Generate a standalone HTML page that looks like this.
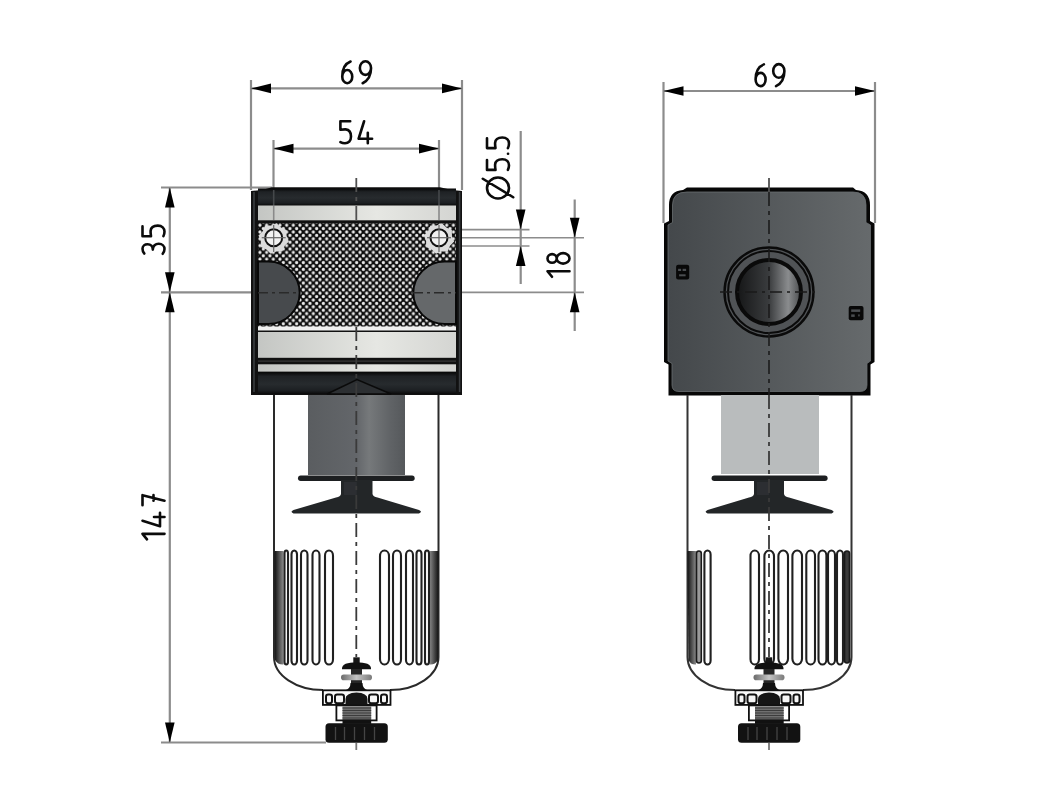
<!DOCTYPE html><html><head><meta charset="utf-8"><style>
html,body{margin:0;padding:0;background:#fff;width:1051px;height:803px;overflow:hidden}
svg{display:block}
.t{font-family:"Liberation Sans",sans-serif;fill:#111}
</style></head><body>
<svg width="1051" height="803" viewBox="0 0 1051 803">
<defs>
<pattern id="knurl" patternUnits="userSpaceOnUse" width="6.67" height="6.8" x="320" y="232">
<rect width="6.67" height="6.8" fill="#0c0c0c"/>
<circle cx="0" cy="0" r="1.6" fill="#eaeaea"/><circle cx="6.67" cy="0" r="1.6" fill="#eaeaea"/>
<circle cx="0" cy="6.8" r="1.6" fill="#eaeaea"/><circle cx="6.67" cy="6.8" r="1.6" fill="#eaeaea"/>
<circle cx="3.335" cy="3.4" r="1.6" fill="#eaeaea"/>
</pattern>
<linearGradient id="lightband" x1="0" y1="0" x2="1" y2="0">
<stop offset="0" stop-color="#c4c6c3"/><stop offset="0.6" stop-color="#e6e7e3"/><stop offset="1" stop-color="#d4d5d2"/>
</linearGradient>
<linearGradient id="darkcap" x1="0" y1="0" x2="0" y2="1">
<stop offset="0" stop-color="#060606"/><stop offset="0.2" stop-color="#1f2225"/><stop offset="0.55" stop-color="#272b2e"/><stop offset="0.85" stop-color="#1c1f22"/><stop offset="1" stop-color="#0a0a0a"/>
</linearGradient>
<linearGradient id="rbody" x1="0" y1="0" x2="1" y2="0">
<stop offset="0" stop-color="#44484b"/><stop offset="1" stop-color="#666a6c"/>
</linearGradient>
<linearGradient id="portdisc" x1="0" y1="0" x2="1" y2="0">
<stop offset="0" stop-color="#151617"/><stop offset="0.5" stop-color="#3a3c3e"/><stop offset="0.8" stop-color="#8a8c8e"/><stop offset="1" stop-color="#4a4c4e"/>
</linearGradient>
<linearGradient id="darkband" x1="0" y1="0" x2="1" y2="0">
<stop offset="0" stop-color="#111"/><stop offset="1" stop-color="#8a8a8a"/>
</linearGradient>
<linearGradient id="darkbandR" x1="0" y1="0" x2="1" y2="0">
<stop offset="0" stop-color="#8a8a8a"/><stop offset="1" stop-color="#111"/>
</linearGradient>
<linearGradient id="filterL" x1="0" y1="0" x2="1" y2="0">
<stop offset="0" stop-color="#5a5d60"/><stop offset="0.5" stop-color="#63666a"/><stop offset="0.63" stop-color="#76797b"/><stop offset="0.85" stop-color="#606366"/><stop offset="1" stop-color="#55585b"/>
</linearGradient>
<linearGradient id="graydisc" x1="0" y1="0" x2="1" y2="0">
<stop offset="0" stop-color="#6a6a6a"/><stop offset="0.5" stop-color="#c4c4c4"/><stop offset="1" stop-color="#7a7a7a"/>
</linearGradient>
</defs>

<line x1="251" y1="80" x2="251" y2="190" stroke="#8c8c8c" stroke-width="2.2" />
<line x1="462" y1="80" x2="462" y2="190" stroke="#8c8c8c" stroke-width="2.2" />
<line x1="251" y1="88.4" x2="462" y2="88.4" stroke="#8c8c8c" stroke-width="2.2" />
<polygon points="251.0,88.4 271.0,83.6 271.0,93.2" fill="#000"/>
<polygon points="462.0,88.4 442.0,83.6 442.0,93.2" fill="#000"/>
<g transform="translate(356.65,72.25) translate(-14.40,-11.00)" fill="none" stroke="#0b0b0b" stroke-width="2.6" stroke-linecap="round" stroke-linejoin="round"><path transform="translate(0.00,0)" d="M8.3,0.3 C3.5,2.2 0,7 0,15.4 M0,15.4 A5,6.6 0 1 0 10,15.4 A5,6.6 0 1 0 0,15.4"/><path transform="translate(17.60,0)" d="M0,6.8 A5.6,6.8 0 1 0 11.2,6.8 A5.6,6.8 0 1 0 0,6.8 M11.2,6.8 C11.2,14 8.3,19.3 2.8,22"/></g>
<line x1="273.5" y1="140" x2="273.5" y2="190" stroke="#8c8c8c" stroke-width="2.2" />
<line x1="439" y1="140" x2="439" y2="190" stroke="#8c8c8c" stroke-width="2.2" />
<line x1="273.5" y1="148.6" x2="439" y2="148.6" stroke="#8c8c8c" stroke-width="2.2" />
<polygon points="273.5,148.6 293.5,143.8 293.5,153.4" fill="#000"/>
<polygon points="439.0,148.6 419.0,143.8 419.0,153.4" fill="#000"/>
<g transform="translate(356.25,132.25) translate(-15.85,-11.00)" fill="none" stroke="#0b0b0b" stroke-width="2.6" stroke-linecap="round" stroke-linejoin="round"><path transform="translate(0.00,0)" d="M9.8,0 L0,0 L0,8.5 C2,8.2 3.8,8 5.3,8.1 C8.8,8.4 10.6,11.5 10.6,15.3 C10.6,19.6 8,22 4.6,22 C2.9,22 1.3,21.6 0,20.9"/><path transform="translate(18.20,0)" d="M5.5,0 L0,17.5 L13.5,17.5 M9.2,11.5 L9.2,22"/></g>
<line x1="161" y1="187.5" x2="272" y2="187.5" stroke="#8c8c8c" stroke-width="2.2" />
<line x1="161" y1="292.3" x2="251" y2="292.3" stroke="#8c8c8c" stroke-width="2.2" />
<line x1="161" y1="742.5" x2="326" y2="742.5" stroke="#8c8c8c" stroke-width="2.2" />
<line x1="169.8" y1="187.5" x2="169.8" y2="742.5" stroke="#8c8c8c" stroke-width="2.2" />
<polygon points="169.8,187.5 165.0,207.5 174.6,207.5" fill="#000"/>
<polygon points="169.8,292.3 165.0,272.3 174.6,272.3" fill="#000"/>
<polygon points="169.8,292.3 165.0,312.3 174.6,312.3" fill="#000"/>
<polygon points="169.8,742.5 165.0,722.5 174.6,722.5" fill="#000"/>
<g transform="translate(153.5,239.7) rotate(-90) translate(-14.10,-11.00)" fill="none" stroke="#0b0b0b" stroke-width="2.6" stroke-linecap="round" stroke-linejoin="round"><path transform="translate(0.00,0)" d="M0.3,1.8 C1.7,0.5 3.3,0 5,0 C8,0 9.6,2.3 9.6,5.1 C9.6,8.2 7.5,10.3 4.2,10.3 C8,10.3 10,13 10,16.2 C10,19.8 7.5,22 4.8,22 C3,22 1.4,21.3 0,20.2"/><path transform="translate(17.60,0)" d="M9.8,0 L0,0 L0,8.5 C2,8.2 3.8,8 5.3,8.1 C8.8,8.4 10.6,11.5 10.6,15.3 C10.6,19.6 8,22 4.6,22 C2.9,22 1.3,21.6 0,20.9"/></g>
<g transform="translate(153.5,517.5) rotate(-90) translate(-22.35,-11.00)" fill="none" stroke="#0b0b0b" stroke-width="2.6" stroke-linecap="round" stroke-linejoin="round"><path transform="translate(0.00,0)" d="M0.5,4.5 L6,0 L6,22"/><path transform="translate(13.60,0)" d="M5.5,0 L0,17.5 L13.5,17.5 M9.2,11.5 L9.2,22"/><path transform="translate(34.70,0)" d="M0,0 L10,0 L4.5,22 M4.5,11 L10,11"/></g>
<line x1="462" y1="229.6" x2="529.5" y2="229.6" stroke="#8c8c8c" stroke-width="1.6" />
<line x1="462" y1="246" x2="529.5" y2="246" stroke="#8c8c8c" stroke-width="1.6" />
<line x1="462" y1="237.8" x2="584" y2="237.8" stroke="#8c8c8c" stroke-width="1.6" />
<line x1="462" y1="292.3" x2="584" y2="292.3" stroke="#8c8c8c" stroke-width="1.8" />
<line x1="520.7" y1="131" x2="520.7" y2="284" stroke="#8c8c8c" stroke-width="2.2" />
<polygon points="520.7,229.6 515.9,209.6 525.5,209.6" fill="#000"/>
<polygon points="520.7,246.0 515.9,266.0 525.5,266.0" fill="#000"/>
<line x1="574.7" y1="199.5" x2="574.7" y2="331" stroke="#8c8c8c" stroke-width="2.2" />
<polygon points="574.7,237.8 569.9,217.8 579.5,217.8" fill="#000"/>
<polygon points="574.7,292.3 569.9,312.3 579.5,312.3" fill="#000"/>
<g transform="translate(498,168) rotate(-90) translate(-30.50,-11.00)" fill="none" stroke="#0b0b0b" stroke-width="2.6" stroke-linecap="round" stroke-linejoin="round"><path transform="translate(0.00,0)" d="M10.5,0 A10.5,11 0 1 0 10.5,22 A10.5,11 0 1 0 10.5,0 M19.75,-4.2 L1.25,26.2"/><path transform="translate(28.60,0)" d="M9.8,0 L0,0 L0,8.5 C2,8.2 3.8,8 5.3,8.1 C8.8,8.4 10.6,11.5 10.6,15.3 C10.6,19.6 8,22 4.6,22 C2.9,22 1.3,21.6 0,20.9"/><path transform="translate(43.80,0)" d="M1,21 L1,21.1"/><path transform="translate(50.40,0)" d="M9.8,0 L0,0 L0,8.5 C2,8.2 3.8,8 5.3,8.1 C8.8,8.4 10.6,11.5 10.6,15.3 C10.6,19.6 8,22 4.6,22 C2.9,22 1.3,21.6 0,20.9"/></g>
<g transform="translate(558.5,265.2) rotate(-90) translate(-12.05,-11.00)" fill="none" stroke="#0b0b0b" stroke-width="2.6" stroke-linecap="round" stroke-linejoin="round"><path transform="translate(0.00,0)" d="M0.5,4.5 L6,0 L6,22"/><path transform="translate(13.60,0)" d="M5.25,0 A4.3,4.6 0 1 0 5.25,9.2 A4.3,4.6 0 1 0 5.25,0 M5.25,9.2 A5.25,6.4 0 1 0 5.25,22 A5.25,6.4 0 1 0 5.25,9.2"/></g>
<g id="lhead">
<path d="M251,191 L262,190 L272,187.3 L440,187.3 L452,190 L462,191 L462,395 L251,395 Z" fill="#111"/>
<rect x="253.2" y="192" width="1.6" height="200" fill="#3a3d40"/>
<rect x="458.8" y="192" width="1.6" height="200" fill="#3a3d40"/>
<rect x="258" y="188.5" width="198" height="17" fill="url(#darkcap)"/>
<rect x="258" y="205.5" width="198" height="14.8" fill="url(#lightband)"/>
<rect x="258" y="223" width="198" height="104" fill="url(#knurl)"/>
<clipPath id="hc273"><rect x="258" y="223" width="198" height="104"/></clipPath>
<polygon clip-path="url(#hc273)" points="288.9,241.5 284.7,245.8 282.3,251.4 276.3,251.4 270.7,253.7 266.4,249.5 260.8,247.1 260.8,241.1 258.5,235.5 262.7,231.2 265.1,225.6 271.1,225.6 276.7,223.3 281.0,227.5 286.6,229.9 286.6,235.9" fill="#dcdcdc"/>
<circle cx="273.7" cy="237.7" r="8.5" fill="#f2f2f2" stroke="#111" stroke-width="2"/>
<line x1="261.7" y1="237.7" x2="285.7" y2="237.7" stroke="#666" stroke-width="1.2"/>
<line x1="273.7" y1="225" x2="273.7" y2="252" stroke="#666" stroke-width="1.2"/>
<clipPath id="hc439"><rect x="258" y="223" width="198" height="104"/></clipPath>
<polygon clip-path="url(#hc439)" points="454.2,241.5 450.0,245.8 447.6,251.4 441.6,251.4 436.0,253.7 431.7,249.5 426.1,247.1 426.1,241.1 423.8,235.5 428.0,231.2 430.4,225.6 436.4,225.6 442.0,223.3 446.3,227.5 451.9,229.9 451.9,235.9" fill="#dcdcdc"/>
<circle cx="439" cy="237.7" r="8.5" fill="#f2f2f2" stroke="#111" stroke-width="2"/>
<line x1="427" y1="237.7" x2="451" y2="237.7" stroke="#666" stroke-width="1.2"/>
<line x1="439" y1="225" x2="439" y2="252" stroke="#666" stroke-width="1.2"/>
<path d="M258,261.6 L268.5,261.6 A31.2,31.2 0 0 1 268.5,324 L258,324 Z" fill="#474a4d" stroke="#080808" stroke-width="2"/>
<path d="M456,261.6 L444.5,261.6 A31.2,31.2 0 0 0 444.5,324 L456,324 Z" fill="#65686a" stroke="#080808" stroke-width="2"/>
<line x1="258" y1="292.8" x2="300" y2="292.8" stroke="#2a2a2a" stroke-width="1.5" stroke-dasharray="10 4 3 4"/>
<line x1="413" y1="292.8" x2="456" y2="292.8" stroke="#2a2a2a" stroke-width="1.5" stroke-dasharray="10 4 3 4"/>
<rect x="258" y="326.5" width="198" height="4" fill="#f0f0f0"/>
<rect x="258" y="332" width="198" height="25.8" fill="url(#lightband)"/>
<rect x="258" y="360.5" width="198" height="1.2" fill="#3a3a3a"/>
<rect x="258" y="364.3" width="198" height="7.3" fill="url(#lightband)"/>
<rect x="258" y="372" width="198" height="22" fill="url(#darkcap)"/>
<path d="M327,394 L357,379.5 L391,394 Z" fill="#2c2f32" stroke="#0a0a0a" stroke-width="1.5"/>
</g>
<line x1="273.7" y1="190" x2="273.7" y2="205.5" stroke="#45484b" stroke-width="1.6" />
<line x1="439" y1="190" x2="439" y2="205.5" stroke="#45484b" stroke-width="1.6" />
<line x1="273.7" y1="205.5" x2="273.7" y2="220" stroke="#8a8a8a" stroke-width="1.6" />
<line x1="439" y1="205.5" x2="439" y2="220" stroke="#8a8a8a" stroke-width="1.6" />
<rect x="308" y="395" width="97" height="80" fill="url(#filterL)"/>
<path d="M274,395 L274,657 A49,33 0 0 0 323,690 M438.5,395 L438.5,657 A48.5,33 0 0 1 390,690" fill="none" stroke="#2a2a2a" stroke-width="2"/>
<rect x="298" y="475.5" width="116.69999999999999" height="5.5" rx="2.7" fill="#1d1f21"/>
<path d="M341,480 L372.5,480 L372.5,494 Q373.0,496.5 377.5,497.5 L419,510 Q423,512 419,513.4 L293.5,513.4 Q289.5,512 293.5,510 L336,497.5 Q340.5,496.5 341,494 Z" fill="#232628"/>
<rect x="344" y="482" width="12.75" height="13" fill="#2e3134" opacity="0.8"/>
<path d="M274.5,551 L283.5,551 L283.5,664.5 Q278,665 275,660 Z" fill="url(#darkband)"/>
<path d="M438.5,551 L429.5,551 L429.5,664.5 Q435,665 438,660 Z" fill="url(#darkbandR)"/>
<rect x="284.5" y="550.5" width="3.5" height="114.0" rx="1.75" ry="2.75" fill="none" stroke="#202020" stroke-width="2.1"/>
<rect x="291.5" y="550.5" width="5.5" height="114.0" rx="2.75" ry="3.75" fill="none" stroke="#202020" stroke-width="2.1"/>
<rect x="301" y="550.5" width="6.5" height="114.0" rx="3.25" ry="4.25" fill="none" stroke="#202020" stroke-width="2.1"/>
<rect x="312.5" y="550.5" width="7.0" height="114.0" rx="3.5" ry="4.5" fill="none" stroke="#202020" stroke-width="2.1"/>
<rect x="325" y="550.5" width="8" height="114.0" rx="4.0" ry="5.0" fill="none" stroke="#202020" stroke-width="2.1"/>
<rect x="380" y="550.5" width="9" height="114.0" rx="4.5" ry="5.5" fill="none" stroke="#202020" stroke-width="2.1"/>
<rect x="393" y="550.5" width="8" height="114.0" rx="4.0" ry="5.0" fill="none" stroke="#202020" stroke-width="2.1"/>
<rect x="406" y="550.5" width="7" height="114.0" rx="3.5" ry="4.5" fill="none" stroke="#202020" stroke-width="2.1"/>
<rect x="416.5" y="550.5" width="5.0" height="114.0" rx="2.5" ry="3.5" fill="none" stroke="#202020" stroke-width="2.1"/>
<rect x="425" y="550.5" width="4" height="114.0" rx="2.0" ry="3.0" fill="none" stroke="#202020" stroke-width="2.1"/>
<rect x="353.3" y="657.3" width="6.4" height="6" fill="#161616"/>
<path d="M342.0,669.3 C341.5,664 347.5,662.6 356.5,662.6 C365.5,662.6 371.5,664 371.0,669.3 Z" fill="#111"/>
<rect x="351.0" y="669" width="11" height="21" fill="#262626"/>
<rect x="341.0" y="674.6" width="31" height="5.6" rx="2.8" fill="url(#graydisc)"/>
<path d="M350.5,683 Q350.5,689 344.5,690.5 L368.5,690.5 Q362.5,689 362.5,683 Z" fill="#111"/>
<rect x="322.9" y="690.3" width="67.6" height="14.6" fill="#fafafa" stroke="#111" stroke-width="1.8"/>
<rect x="326.0" y="694.5" width="6.0" height="8.8" rx="2.2" fill="#f6f6f6" stroke="#111" stroke-width="2"/>
<rect x="335.0" y="694.5" width="9.0" height="8.8" rx="2.2" fill="#f6f6f6" stroke="#111" stroke-width="2"/>
<rect x="369.0" y="694.5" width="9.0" height="8.8" rx="2.2" fill="#f6f6f6" stroke="#111" stroke-width="2"/>
<rect x="381.0" y="694.5" width="6.0" height="8.8" rx="2.2" fill="#f6f6f6" stroke="#111" stroke-width="2"/>
<path d="M345.5,705 L345.5,699 Q345.5,693 356.5,692.5 Q367.5,693 367.5,699 L367.5,705 Z" fill="#161616"/>
<rect x="336.4" y="705.4" width="40.2" height="15" fill="#fff" stroke="#111" stroke-width="1.8"/>
<rect x="342.5" y="706.4" width="28.7" height="13.5" fill="#707070"/>
<line x1="342.5" y1="708" x2="371.2" y2="708" stroke="#3c3c3c" stroke-width="1"/>
<line x1="342.5" y1="710.5" x2="371.2" y2="710.5" stroke="#3c3c3c" stroke-width="1"/>
<line x1="342.5" y1="713" x2="371.2" y2="713" stroke="#3c3c3c" stroke-width="1"/>
<line x1="342.5" y1="715.5" x2="371.2" y2="715.5" stroke="#3c3c3c" stroke-width="1"/>
<line x1="342.5" y1="718" x2="371.2" y2="718" stroke="#3c3c3c" stroke-width="1"/>
<rect x="342.5" y="719.4" width="28.7" height="4.5" fill="#111"/>
<rect x="325.5" y="723.2" width="62.3" height="19.5" rx="3.5" fill="#121212"/>
<line x1="335.5" y1="727" x2="335.5" y2="740" stroke="#444" stroke-width="1.3"/>
<line x1="344.5" y1="727" x2="344.5" y2="740" stroke="#444" stroke-width="1.3"/>
<line x1="354.5" y1="727" x2="354.5" y2="740" stroke="#444" stroke-width="1.3"/>
<line x1="364.5" y1="727" x2="364.5" y2="740" stroke="#444" stroke-width="1.3"/>
<line x1="374.5" y1="727" x2="374.5" y2="740" stroke="#444" stroke-width="1.3"/>
<line x1="356.3" y1="178" x2="356.3" y2="223" stroke="#505050" stroke-width="1.8" stroke-dasharray="14 5 4 5"/>
<line x1="356.3" y1="327" x2="356.3" y2="657" stroke="#3a3a3a" stroke-width="1.8" stroke-dasharray="14 5 4 5"/>
<line x1="356.3" y1="743" x2="356.3" y2="750" stroke="#777" stroke-width="1.8" />
<line x1="663.5" y1="82" x2="663.5" y2="223" stroke="#8c8c8c" stroke-width="2.2" />
<line x1="875" y1="82" x2="875" y2="223" stroke="#8c8c8c" stroke-width="2.2" />
<line x1="663.5" y1="91" x2="875" y2="91" stroke="#8c8c8c" stroke-width="2.2" />
<polygon points="663.5,91.0 683.5,86.2 683.5,95.8" fill="#000"/>
<polygon points="875.0,91.0 855.0,86.2 855.0,95.8" fill="#000"/>
<g transform="translate(770,75.1) translate(-14.40,-11.00)" fill="none" stroke="#0b0b0b" stroke-width="2.6" stroke-linecap="round" stroke-linejoin="round"><path transform="translate(0.00,0)" d="M8.3,0.3 C3.5,2.2 0,7 0,15.4 M0,15.4 A5,6.6 0 1 0 10,15.4 A5,6.6 0 1 0 0,15.4"/><path transform="translate(17.60,0)" d="M0,6.8 A5.6,6.8 0 1 0 11.2,6.8 A5.6,6.8 0 1 0 0,6.8 M11.2,6.8 C11.2,14 8.3,19.3 2.8,22"/></g>
<path d="M687,187.5 L853,187.5 L856,190 Q870,191 870,205 L870,221 L874.5,223.5 L874.5,362 L870.5,364.5 L870.5,395.5 L668.5,395.5 L668.5,364.5 L664,362 L664,223.5 L669,221 L669,205 Q669,191 683,190 Z" fill="#070707"/>
<path d="M687,192 L853,192 Q866,192 866,205 L866,222.5 L870.5,225 L870.5,361 L867,363.5 L867,385 Q867,391.5 860,391.5 L679,391.5 Q672,391.5 672,385 L672,363.5 L668,361 L668,225 L672.5,222.5 L672.5,205 Q672.5,192 687,192 Z" fill="url(#rbody)" stroke="#6a6e71" stroke-width="0.8"/>
<circle cx="769" cy="292" r="44.5" fill="#505356" stroke="#0a0a0a" stroke-width="2.4"/>
<circle cx="769" cy="292" r="41" fill="none" stroke="#0a0a0a" stroke-width="2"/>
<circle cx="769" cy="292" r="32" fill="url(#portdisc)" stroke="#0a0a0a" stroke-width="4"/>
<line x1="720" y1="292" x2="818" y2="292" stroke="#1a1a1a" stroke-width="1.4" stroke-dasharray="12 5 3 5"/>
<rect x="676.1" y="264.8" width="13.1" height="14.6" rx="2" fill="#080808"/>
<rect x="678.1" y="268.8" width="3" height="2.2" fill="#4a4d50"/>
<rect x="682.6" y="268.8" width="3.5" height="2.2" fill="#4a4d50"/>
<rect x="679.1" y="274.3" width="6.5" height="2" fill="#4a4d50"/>
<rect x="848.7" y="305.9" width="14.8" height="14.4" rx="2" fill="#080808"/>
<rect x="851.2" y="309.4" width="9" height="2.5" fill="#4a4d50"/>
<rect x="851.2" y="314.4" width="3.5" height="2.5" fill="#4a4d50"/>
<rect x="858.2" y="314.4" width="1.5" height="2" fill="#4a4d50"/>
<rect x="721" y="395" width="98" height="79" fill="#b9bcbd"/>
<path d="M687.5,395 L687.5,657 A47.5,33 0 0 0 735,690 M851.5,395 L851.5,657 A48.5,33 0 0 1 803,690" fill="none" stroke="#333" stroke-width="2"/>
<rect x="711.6" y="475.5" width="116.0" height="5.5" rx="2.7" fill="#1d1f21"/>
<path d="M754,480 L784,480 L784,494 Q784.5,496.5 789,497.5 L831.6,510 Q835.6,512 831.6,513.4 L707.6,513.4 Q703.6,512 707.6,510 L749,497.5 Q753.5,496.5 754,494 Z" fill="#232628"/>
<rect x="757" y="482" width="12.0" height="13" fill="#2e3134" opacity="0.8"/>
<path d="M687.5,551 L696,551 L696,664.5 Q691,665 688.5,660 Z" fill="url(#darkband)"/>
<rect x="696.5" y="551" width="4.8" height="112" rx="2.4" fill="#9a9a9a" stroke="#1a1a1a" stroke-width="1.6"/>
<rect x="844.5" y="551" width="5" height="112" rx="2.5" fill="#3a3a3a" stroke="#1a1a1a" stroke-width="1.6"/>
<rect x="704.4" y="550.5" width="6.2000000000000455" height="114.0" rx="3.1000000000000227" ry="4.100000000000023" fill="none" stroke="#202020" stroke-width="2.1"/>
<rect x="750.5" y="550.5" width="8.5" height="114.0" rx="4.25" ry="5.25" fill="none" stroke="#202020" stroke-width="2.1"/>
<rect x="764.4" y="550.5" width="9.600000000000023" height="114.0" rx="4.800000000000011" ry="5.800000000000011" fill="none" stroke="#202020" stroke-width="2.1"/>
<rect x="778.4" y="550.5" width="9.600000000000023" height="114.0" rx="4.800000000000011" ry="5.800000000000011" fill="none" stroke="#202020" stroke-width="2.1"/>
<rect x="792.4" y="550.5" width="9.600000000000023" height="114.0" rx="4.800000000000011" ry="5.800000000000011" fill="none" stroke="#202020" stroke-width="2.1"/>
<rect x="806.3" y="550.5" width="8.700000000000045" height="114.0" rx="4.350000000000023" ry="5.350000000000023" fill="none" stroke="#202020" stroke-width="2.1"/>
<rect x="818.5" y="550.5" width="7.899999999999977" height="114.0" rx="3.9499999999999886" ry="4.949999999999989" fill="none" stroke="#202020" stroke-width="2.1"/>
<rect x="828" y="550.5" width="7" height="114.0" rx="3.5" ry="4.5" fill="none" stroke="#202020" stroke-width="2.1"/>
<rect x="837" y="550.5" width="6" height="114.0" rx="3.0" ry="4.0" fill="none" stroke="#202020" stroke-width="2.1"/>
<rect x="765.8" y="657.3" width="6.4" height="6" fill="#161616"/>
<path d="M754.5,669.3 C754,664 760,662.6 769,662.6 C778,662.6 784,664 783.5,669.3 Z" fill="#111"/>
<rect x="763.5" y="669" width="11" height="21" fill="#262626"/>
<rect x="753.5" y="674.6" width="31" height="5.6" rx="2.8" fill="url(#graydisc)"/>
<path d="M763,683 Q763,689 757,690.5 L781,690.5 Q775,689 775,683 Z" fill="#111"/>
<rect x="735.4" y="690.3" width="67.6" height="14.6" fill="#fafafa" stroke="#111" stroke-width="1.8"/>
<rect x="738.5" y="694.5" width="6.0" height="8.8" rx="2.2" fill="#f6f6f6" stroke="#111" stroke-width="2"/>
<rect x="747.5" y="694.5" width="9.0" height="8.8" rx="2.2" fill="#f6f6f6" stroke="#111" stroke-width="2"/>
<rect x="781.5" y="694.5" width="9.0" height="8.8" rx="2.2" fill="#f6f6f6" stroke="#111" stroke-width="2"/>
<rect x="793.5" y="694.5" width="6.0" height="8.8" rx="2.2" fill="#f6f6f6" stroke="#111" stroke-width="2"/>
<path d="M758,705 L758,699 Q758,693 769,692.5 Q780,693 780,699 L780,705 Z" fill="#161616"/>
<rect x="748.9" y="705.4" width="40.2" height="15" fill="#fff" stroke="#111" stroke-width="1.8"/>
<rect x="755" y="706.4" width="28.7" height="13.5" fill="#707070"/>
<line x1="755" y1="708" x2="783.7" y2="708" stroke="#3c3c3c" stroke-width="1"/>
<line x1="755" y1="710.5" x2="783.7" y2="710.5" stroke="#3c3c3c" stroke-width="1"/>
<line x1="755" y1="713" x2="783.7" y2="713" stroke="#3c3c3c" stroke-width="1"/>
<line x1="755" y1="715.5" x2="783.7" y2="715.5" stroke="#3c3c3c" stroke-width="1"/>
<line x1="755" y1="718" x2="783.7" y2="718" stroke="#3c3c3c" stroke-width="1"/>
<rect x="755" y="719.4" width="28.7" height="4.5" fill="#111"/>
<rect x="738" y="723.2" width="62.3" height="19.5" rx="3.5" fill="#121212"/>
<line x1="748" y1="727" x2="748" y2="740" stroke="#444" stroke-width="1.3"/>
<line x1="757" y1="727" x2="757" y2="740" stroke="#444" stroke-width="1.3"/>
<line x1="767" y1="727" x2="767" y2="740" stroke="#444" stroke-width="1.3"/>
<line x1="777" y1="727" x2="777" y2="740" stroke="#444" stroke-width="1.3"/>
<line x1="787" y1="727" x2="787" y2="740" stroke="#444" stroke-width="1.3"/>
<line x1="769" y1="178" x2="769" y2="192" stroke="#505050" stroke-width="1.8" stroke-dasharray="14 5 4 5"/>
<line x1="769" y1="192" x2="769" y2="395" stroke="#1c1c1c" stroke-width="1.6" stroke-dasharray="14 5 4 5"/>
<line x1="769" y1="395" x2="769" y2="657" stroke="#3a3a3a" stroke-width="1.8" stroke-dasharray="14 5 4 5"/>
<line x1="769" y1="743" x2="769" y2="750" stroke="#777" stroke-width="1.8" />
</svg></body></html>
